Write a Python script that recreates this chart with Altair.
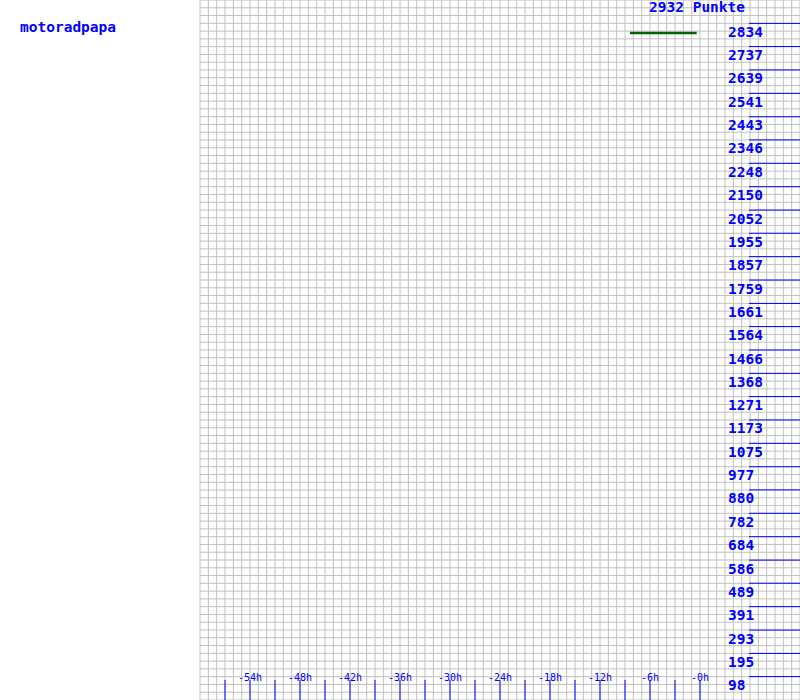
import altair as alt
import pandas as pd

# ---- data ----
user_name = ["motoradpapa"]
title_text = ["2932 Punkte"]
y_max = [2932]
y_tick_labels = [98, 195, 293, 391, 489, 586, 684, 782, 880, 977, 1075, 1173,
                 1271, 1368, 1466, 1564, 1661, 1759, 1857, 1955, 2052, 2150,
                 2248, 2346, 2443, 2541, 2639, 2737, 2834]
x_label_hours = [-54, -48, -42, -36, -30, -24, -18, -12, -6, 0]
x_labels = ["-54h", "-48h", "-42h", "-36h", "-30h", "-24h", "-18h", "-12h", "-6h", "-0h"]
x_tick_hours = [-57, -54, -51, -48, -45, -42, -39, -36, -33, -30, -27, -24, -21,
                -18, -15, -12, -9, -6, -3, 0]
series_hours = [-8.4, -0.4]
series_points = [2794, 2794]

# grid: one column per hour, three rows per y tick interval
grid_hours = list(range(-60, 13))
grid_rows = [k * y_max[0] / 90 for k in range(0, 91)]

W, H = 800, 700
xs = alt.Scale(domain=[-84, 12], range=[0, W], nice=False, zero=False)
ys = alt.Scale(domain=[0, y_max[0]], range=[H, 0], nice=False, zero=False)

GRID = "#c0c0c0"
BLUE = "#0000ff"
GREEN = "#006400"
FONT = "DejaVu Sans Mono"

vgrid = alt.Chart(pd.DataFrame({"h": grid_hours})).mark_rule(
    color=GRID, strokeWidth=1
).encode(
    x=alt.X("h:Q", scale=xs, axis=None),
    y=alt.value(0), y2=alt.value(H),
)

hgrid = alt.Chart(pd.DataFrame({"v": grid_rows})).mark_rule(
    color=GRID, strokeWidth=1
).encode(
    y=alt.Y("v:Q", scale=ys, axis=None),
    x=alt.value(200), x2=alt.value(W),
)

ytick_df = pd.DataFrame({"v": y_tick_labels, "lab": [str(v) for v in y_tick_labels]})
yticks = alt.Chart(ytick_df).mark_rule(color=BLUE, strokeWidth=1).encode(
    y=alt.Y("v:Q", scale=ys, axis=None),
    x=alt.value(749), x2=alt.value(W),
)
ylabels = alt.Chart(ytick_df).mark_text(
    color=BLUE, font=FONT, fontSize=14.5, fontWeight="bold",
    align="left", baseline="alphabetic", dy=13.5
).encode(
    y=alt.Y("v:Q", scale=ys, axis=None),
    x=alt.value(728),
    text="lab:N",
)

xticks = alt.Chart(pd.DataFrame({"h": x_tick_hours})).mark_rule(
    color=BLUE, strokeWidth=1
).encode(
    x=alt.X("h:Q", scale=xs, axis=None),
    y=alt.value(680), y2=alt.value(H),
)
xlabels = alt.Chart(pd.DataFrame({"h": x_label_hours, "lab": x_labels})).mark_text(
    color=BLUE, font=FONT, fontSize=10, align="center", baseline="alphabetic"
).encode(
    x=alt.X("h:Q", scale=xs, axis=None),
    y=alt.value(680.5),
    text="lab:N",
)

series = alt.Chart(pd.DataFrame({"h": series_hours, "p": series_points})).mark_line(
    color=GREEN, strokeWidth=2.5
).encode(
    x=alt.X("h:Q", scale=xs, axis=None),
    y=alt.Y("p:Q", scale=ys, axis=None),
)

title = alt.Chart(pd.DataFrame({"t": title_text})).mark_text(
    color=BLUE, font=FONT, fontSize=14.5, fontWeight="bold",
    align="left", baseline="alphabetic"
).encode(x=alt.value(649), y=alt.value(11.5), text="t:N")

name = alt.Chart(pd.DataFrame({"t": user_name})).mark_text(
    color=BLUE, font=FONT, fontSize=14.5, fontWeight="bold",
    align="left", baseline="alphabetic"
).encode(x=alt.value(20), y=alt.value(32), text="t:N")

chart = alt.layer(
    vgrid, hgrid, yticks, ylabels, xticks, xlabels, series, title, name
).properties(
    width=W, height=H, padding=0, autosize=alt.AutoSizeParams(type="none"),
    background="white",
).configure_view(stroke=None)

chart.save("out.html", embed_options={"renderer": "svg", "actions": False})
